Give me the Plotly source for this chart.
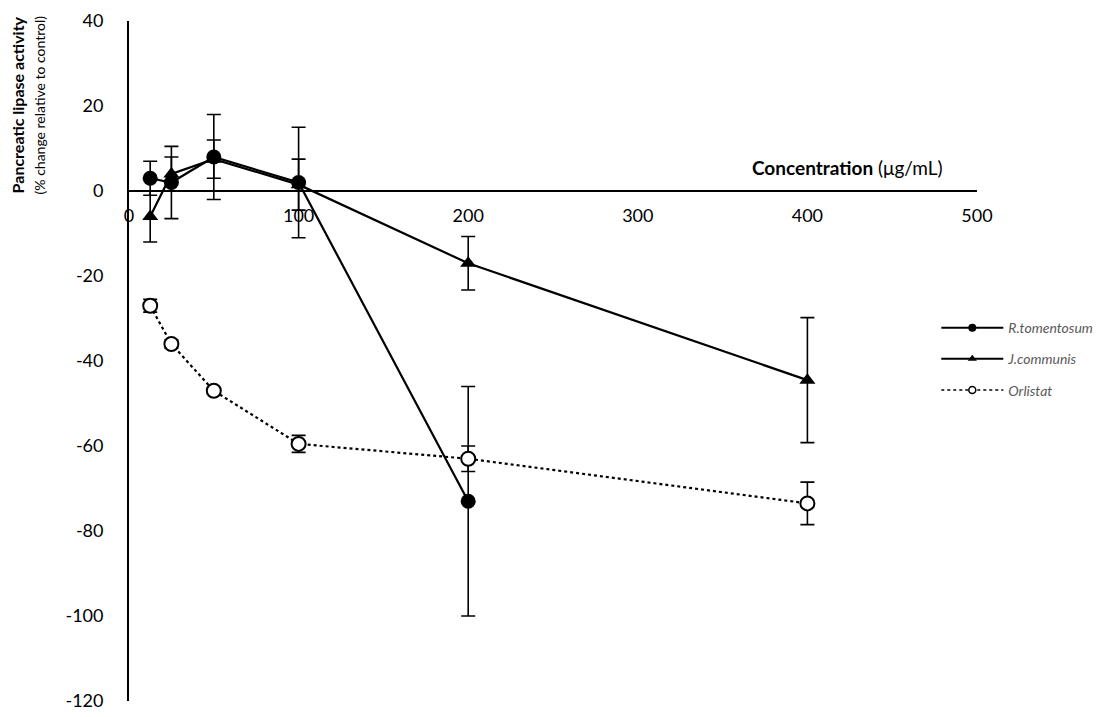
import plotly.graph_objects as go

conc = [12.5, 25, 50, 100, 200, 400]
rt_conc = [12.5, 25, 50, 100, 200]
rt_vals = [3, 2, 8, 2, -73]
rt_err = [4, 8.5, 10, 13, 27]
jc_vals = [-6, 4, 7.5, 1.5, -17, -44.5]
jc_err = [6, 4, 4.5, 6, 6.3, 14.7]
orl_vals = [-27, -36, -47, -59.5, -63, -73.5]
orl_err = [1.5, 1, 0.8, 2, 3, 5]
x_ticks = [0, 100, 200, 300, 400, 500]
y_ticks = [40, 20, 0, -20, -40, -60, -80, -100, -120]

FONT = "Lato"

fig = go.Figure()
fig.add_trace(go.Scatter(
    x=rt_conc, y=rt_vals, name="R.tomentosum", showlegend=False,
    mode="lines+markers",
    line=dict(color="black", width=2.2),
    marker=dict(symbol="circle", size=15, color="black"),
    error_y=dict(type="data", array=rt_err, color="black", thickness=1.6, width=7),
))
fig.add_trace(go.Scatter(
    x=conc, y=jc_vals, name="J.communis", showlegend=False,
    mode="lines+markers",
    line=dict(color="black", width=2.2),
    marker=dict(symbol="triangle-up", size=14, color="black"),
    error_y=dict(type="data", array=jc_err, color="black", thickness=1.6, width=7),
))
fig.add_trace(go.Scatter(
    x=conc, y=orl_vals, name="Orlistat", showlegend=False,
    mode="lines+markers",
    line=dict(color="black", width=2.2, dash="dot"),
    marker=dict(symbol="circle", size=14, color="white", line=dict(color="black", width=2)),
    error_y=dict(type="data", array=orl_err, color="black", thickness=1.6, width=7),
))

# legend entries (smaller markers, as in the reference key)
fig.add_trace(go.Scatter(x=[None], y=[None], name="R.tomentosum", legendgroup="a",
                         mode="lines+markers", line=dict(color="black", width=2),
                         marker=dict(symbol="circle", size=8, color="black")))
fig.add_trace(go.Scatter(x=[None], y=[None], name="J.communis", legendgroup="b",
                         mode="lines+markers", line=dict(color="black", width=2),
                         marker=dict(symbol="triangle-up", size=8, color="black")))
fig.add_trace(go.Scatter(x=[None], y=[None], name="Orlistat", legendgroup="c",
                         mode="lines+markers", line=dict(color="black", width=1.6, dash="dot"),
                         marker=dict(symbol="circle", size=7, color="white",
                                     line=dict(color="black", width=1.5))))

fig.update_layout(
    width=1110, height=717,
    margin=dict(l=121, r=141, t=13, b=24, autoexpand=False),
    plot_bgcolor="white", paper_bgcolor="white",
    font=dict(family=FONT, size=18, color="black"),
    showlegend=True,
    legend=dict(
        x=0.952, y=0.572, xanchor="left", yanchor="top",
        font=dict(family=FONT, size=14, color="#595959", style="italic"),
        tracegroupgap=10, bgcolor="rgba(0,0,0,0)",
        itemwidth=62,
    ),
    xaxis=dict(
        range=[0, 500], tickvals=x_ticks, ticktext=[str(v) for v in x_ticks],
        anchor="free", position=0.75,
        showline=True, linecolor="black", linewidth=1.8,
        showgrid=False, zeroline=False, ticks="",
        ticklabelstandoff=8,
    ),
    yaxis=dict(
        range=[-120, 40], tickvals=y_ticks, ticktext=[str(v) for v in y_ticks],
        showline=True, linecolor="black", linewidth=1.8,
        showgrid=False, zeroline=False, ticks="",
        ticklabelstandoff=20,
    ),
    annotations=[
        dict(text="<b>Concentration</b> (μg/mL)", xref="paper", yref="paper",
             x=0.962, y=0.784, xanchor="right", yanchor="middle",
             showarrow=False, font=dict(family=FONT, size=19, color="black")),
        dict(text="<b><span style='font-size:16px'>Pancreatic lipase activity</span></b><br>"
                  "<span style='font-size:14px'>(% change relative to control)</span>",
             xref="paper", yref="paper", x=-0.119, y=0.876, align="center",
             xanchor="center", yanchor="middle", textangle=-90,
             showarrow=False, font=dict(family=FONT, size=16, color="black")),
    ],
)

fig.write_html("out.html")
